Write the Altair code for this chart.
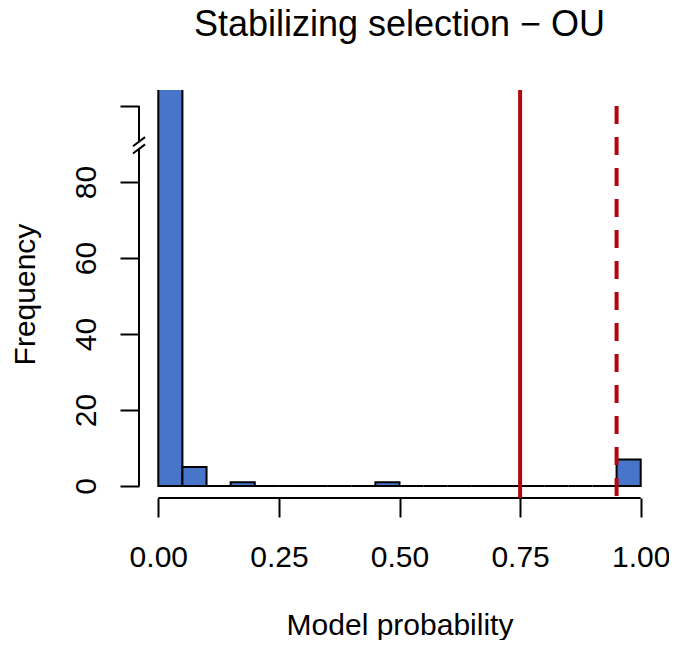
import altair as alt
import pandas as pd

# ---- data ----
bin_start = [0.00, 0.05, 0.10, 0.15, 0.20, 0.25, 0.30, 0.35, 0.40, 0.45,
             0.50, 0.55, 0.60, 0.65, 0.70, 0.75, 0.80, 0.85, 0.90, 0.95]
bin_end = [0.05, 0.10, 0.15, 0.20, 0.25, 0.30, 0.35, 0.40, 0.45, 0.50,
           0.55, 0.60, 0.65, 0.70, 0.75, 0.80, 0.85, 0.90, 0.95, 1.00]
counts = [186, 5, 0, 1, 0, 0, 0, 0, 0, 1,
          0, 0, 0, 0, 0, 0, 0, 0, 0, 7]

x_ticks = [0.00, 0.25, 0.50, 0.75, 1.00]
y_ticks = [0, 20, 40, 60, 80, 100]   # top tick marks the axis break (unlabelled)
solid_line_x = [0.75]
dashed_line_x = [0.95]

# ---- scales (R-style 4% extension) ----
X_DOM = [-0.04, 1.04]
Y_DOM = [-3.158, 104.21]
BREAK_LO, BREAK_HI = 88.7, 90.6

BLUE = "#4775CA"
RED = "#B3060E"
FONT = "Liberation Sans"

hist = pd.DataFrame({"start": bin_start, "end": bin_end, "count": counts,
                     "base": [0] * len(counts)})

xs = alt.Scale(domain=X_DOM, nice=False, zero=False)
ys = alt.Scale(domain=Y_DOM, nice=False, zero=False)

bars = alt.Chart(hist).transform_calculate(
    shown=f"min(datum.count, {Y_DOM[1] + 2})"   # bar beyond the break is cut at the top
).mark_bar(
    fill=BLUE, stroke="black", strokeWidth=2, clip=True
).encode(
    x=alt.X("start:Q", scale=xs,
            axis=alt.Axis(values=x_ticks, format=".2f", domain=False, grid=False,
                          tickSize=19, tickWidth=2, tickColor="black",
                          labelFont=FONT, labelFontSize=30, labelColor="black",
                          labelPadding=25, labelFlush=False,
                          title="Model probability", titleFont=FONT,
                          titleFontSize=30, titleFontWeight="normal",
                          titleColor="black", titlePadding=38)),
    x2="end:Q",
    y=alt.Y("shown:Q", scale=ys,
            axis=alt.Axis(values=y_ticks, domain=False, grid=False,
                          labelExpr="datum.value == 100 ? '' : datum.label",
                          tickSize=19, tickWidth=2, tickColor="black",
                          labelFont=FONT, labelFontSize=30, labelColor="black",
                          labelAngle=-90, labelAlign="center",
                          labelBaseline="alphabetic", labelPadding=25,
                          title="Frequency", titleFont=FONT,
                          titleFontSize=30, titleFontWeight="normal",
                          titleColor="black", titlePadding=31)),
    y2="base:Q",
)

# axis lines (R draws them only over the tick range, with a break)
yaxis_df = pd.DataFrame({"x": [X_DOM[0], X_DOM[0]],
                         "y": [0, BREAK_HI], "y2": [BREAK_LO, y_ticks[-1]]})
yaxis = alt.Chart(yaxis_df).mark_rule(color="black", strokeWidth=2).encode(
    x=alt.X("x:Q", scale=xs), y=alt.Y("y:Q", scale=ys), y2="y2:Q")

brk_df = pd.DataFrame({
    "x": [X_DOM[0] - 0.0125, X_DOM[0] - 0.0125],
    "x2": [X_DOM[0] + 0.0125, X_DOM[0] + 0.0125],
    "y": [BREAK_LO - 1.2, BREAK_HI - 1.2],
    "y2": [BREAK_LO + 1.2, BREAK_HI + 1.2],
})
brk = alt.Chart(brk_df).mark_rule(color="black", strokeWidth=2).encode(
    x=alt.X("x:Q", scale=xs), x2="x2:Q",
    y=alt.Y("y:Q", scale=ys), y2="y2:Q")

xaxis_df = pd.DataFrame({"x": [x_ticks[0]], "x2": [x_ticks[-1]], "y": [Y_DOM[0]]})
xaxis = alt.Chart(xaxis_df).mark_rule(color="black", strokeWidth=2).encode(
    x=alt.X("x:Q", scale=xs), x2="x2:Q", y=alt.Y("y:Q", scale=ys))

solid_df = pd.DataFrame({"x": solid_line_x, "y": [Y_DOM[1]], "y2": [Y_DOM[0]]})
solid = alt.Chart(solid_df).mark_rule(color=RED, strokeWidth=4).encode(
    x=alt.X("x:Q", scale=xs), y=alt.Y("y:Q", scale=ys), y2="y2:Q")

dashed_df = pd.DataFrame({"x": dashed_line_x, "y": [y_ticks[-1]], "y2": [Y_DOM[0]]})
dashed = alt.Chart(dashed_df).mark_rule(color=RED, strokeWidth=4,
                                        strokeDash=[18, 13]).encode(
    x=alt.X("x:Q", scale=xs), y=alt.Y("y:Q", scale=ys), y2="y2:Q")

chart = alt.layer(bars, yaxis, brk, xaxis, solid, dashed).properties(
    width=521, height=408,
    title=alt.TitleParams("Stabilizing selection \u2212 OU", font=FONT,
                          fontSize=36, fontWeight="normal", color="black",
                          anchor="middle", baseline="alphabetic", offset=16),
    autosize=alt.AutoSizeParams(type="none"),
    padding={"left": 131, "top": 82, "right": 9, "bottom": 142},
).configure_view(stroke="transparent", strokeWidth=0)

chart.save("out.html", embed_options={"renderer": "svg", "actions": False})
